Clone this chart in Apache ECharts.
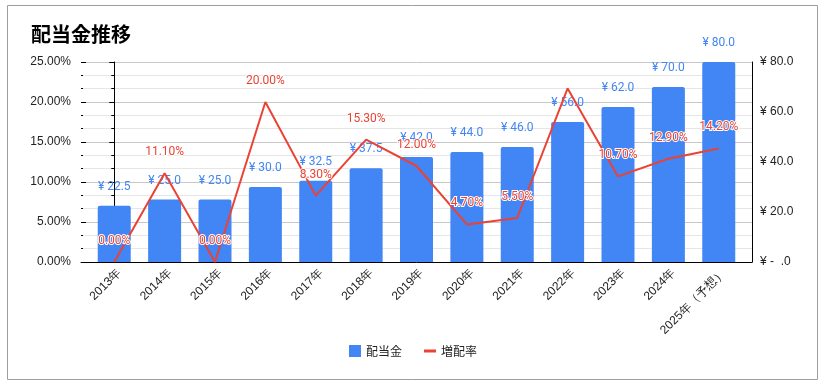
<!DOCTYPE html>
<html><head><meta charset="utf-8">
<script src="https://cdn.jsdelivr.net/npm/echarts@6/dist/echarts.min.js"></script>
<style>html,body{margin:0;padding:0;background:#fff}#c{width:826px;height:388px}</style>
</head><body><div id="c"></div>
<script>
const categories = ['2013年','2014年','2015年','2016年','2017年','2018年','2019年','2020年','2021年','2022年','2023年','2024年','2025年（予想）'];
const dividend = [22.5, 25.0, 25.0, 30.0, 32.5, 37.5, 42.0, 44.0, 46.0, 56.0, 62.0, 70.0, 80.0];
const growthRate = [0.0, 11.1, 0.0, 20.0, 8.3, 15.3, 12.0, 4.7, 5.5, 21.7, 10.7, 12.9, 14.2];
const hiddenRateLabels = ['2022年'];
const leftTicks = [0, 5, 10, 15, 20, 25];
const rightTicks = [0, 20, 40, 60, 80];

const idx = categories.map((c, i) => i);
const chart = echarts.init(document.getElementById('c'));
const numFont = 'Roboto, "Noto Sans", sans-serif';
const axFont = '"Liberation Sans", Arial, sans-serif';
const leftBase = {
  type: 'value', min: leftTicks[0], max: leftTicks[leftTicks.length - 1], interval: 5, position: 'left'
};
chart.setOption({
  animation: false,
  title: { text: '配当金推移', left: 26, top: 19, textStyle: { fontFamily: '"Noto Sans CJK JP", sans-serif', fontWeight: 'bold', fontSize: 20, color: '#000' } },
  graphic: [{ type: 'rect', shape: { x: 7.5, y: 5.5, width: 810, height: 374 }, style: { fill: 'none', stroke: '#9e9e9e', lineWidth: 1 } }],
  legend: {
    bottom: 26, left: 'center', itemWidth: 12, itemHeight: 12, itemGap: 22,
    textStyle: { fontFamily: '"Noto Sans CJK JP", sans-serif', fontSize: 12, color: '#222' },
    data: [{ name: '配当金', icon: 'rect' }, { name: '増配率', icon: 'path://M0,5 L12,5 L12,8 L0,8 Z' }]
  },
  grid: { left: 81, right: 74, top: 62, bottom: 126 },
  xAxis: {
    type: 'value', min: -0.66, max: categories.length - 1 + 0.66,
    splitLine: { show: false },
    axisLine: { lineStyle: { color: '#000' } }, axisTick: { show: false },
    axisLabel: { customValues: idx.map(i => i + 0.1), rotate: 45, fontSize: 12, color: '#222', fontFamily: axFont, margin: 9, formatter: v => categories[Math.round(v)] }
  },
  yAxis: [Object.assign({}, leftBase, {
    axisLine: { show: true, lineStyle: { color: '#000' } },
    axisTick: { show: true, length: 5, lineStyle: { color: '#000' } },
    minorTick: { show: true, splitNumber: 3, length: 3, lineStyle: { color: '#000' } },
    splitLine: { show: true, lineStyle: { color: '#c8c8c8' } },
    minorSplitLine: { show: true, lineStyle: { color: '#e6e6e6' } },
    axisLabel: { formatter: v => v.toFixed(2) + '%', fontSize: 12, color: '#222', fontFamily: axFont, margin: 10 }
  }), {
    type: 'value', min: rightTicks[0], max: rightTicks[rightTicks.length - 1], interval: 20, position: 'right',
    axisLine: { show: true, lineStyle: { color: '#000' } }, axisTick: { show: false },
    splitLine: { show: false },
    axisLabel: { formatter: v => v === 0 ? '¥ -  .0' : '¥ ' + v.toFixed(1), fontSize: 12, color: '#222', fontFamily: axFont, margin: 8 }
  }, Object.assign({}, leftBase, {
    axisLine: { show: false },
    axisTick: { show: true, inside: true, length: 5, lineStyle: { color: '#000' } },
    minorTick: { show: true, splitNumber: 3, length: 2, lineStyle: { color: '#000' } },
    splitLine: { show: false }, minorSplitLine: { show: false },
    axisLabel: { show: false }
  })],
  series: [{
    name: '配当金', type: 'bar', yAxisIndex: 1, data: dividend.map((v, i) => [i, v]), barWidth: 33,
    itemStyle: { color: '#4285F4', borderRadius: [2, 2, 0, 0] },
    label: { show: true, position: 'top', distance: 13, formatter: p => '¥ ' + p.value[1].toFixed(1), color: '#4285F4', fontSize: 12, fontFamily: numFont }
  }, {
    name: '増配率', type: 'line', yAxisIndex: 0, showSymbol: true, symbol: 'circle', symbolSize: 0.1,
    data: growthRate.map((v, i) => hiddenRateLabels.includes(categories[i]) ? { value: [i, v], label: { show: false } } : [i, v]),
    lineStyle: { color: '#EA4335', width: 2 }, itemStyle: { color: '#EA4335' },
    label: { show: true, position: 'top', distance: 15, formatter: p => p.value[1].toFixed(2) + '%', color: '#EA4335', fontSize: 12, fontFamily: numFont, textBorderColor: '#fff', textBorderWidth: 2 },
    z: 5
  }]
});
</script></body></html>
